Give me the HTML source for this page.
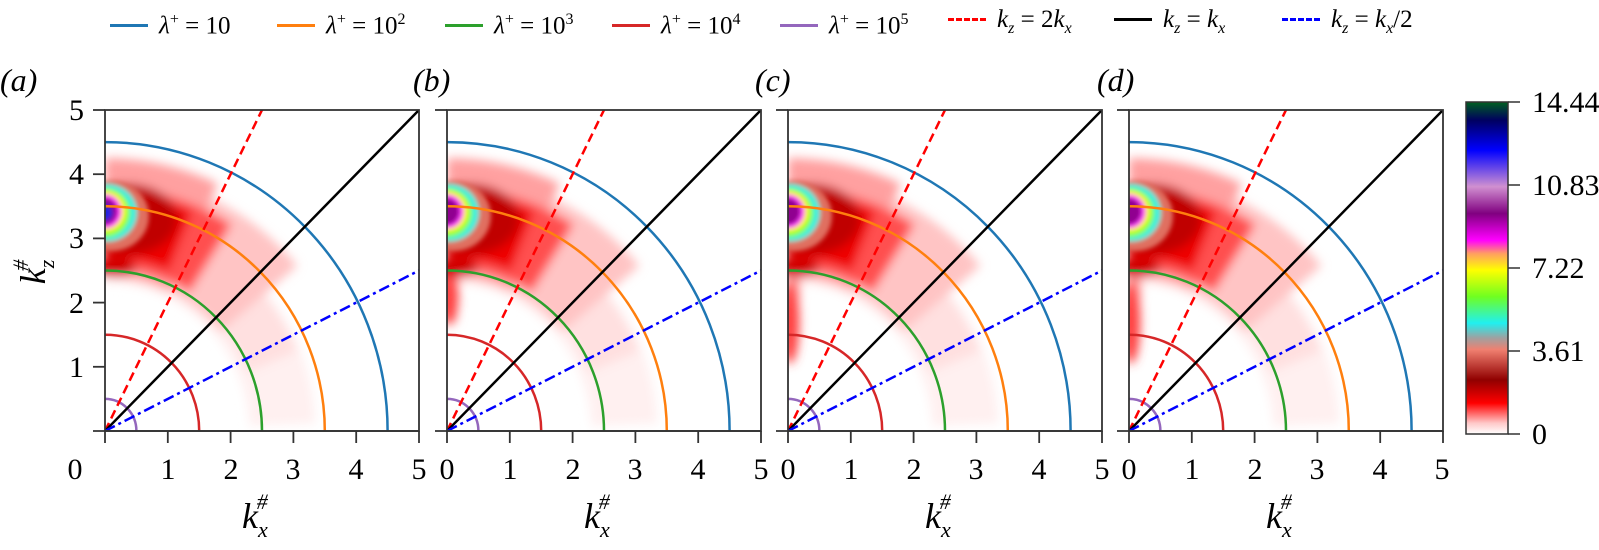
<!DOCTYPE html>
<html><head><meta charset="utf-8"><style>
html,body{margin:0;padding:0;background:#fff;}
body{width:1599px;height:550px;position:relative;overflow:hidden;font-family:"Liberation Serif","DejaVu Serif",serif;}
svg text{font-family:"Liberation Serif","DejaVu Serif",serif;}
.lg{position:absolute;top:5px;font-size:25px;white-space:nowrap;line-height:30px;}
.lg span.l{display:inline-block;width:38px;height:0;border-top:3px solid;vertical-align:middle;margin-right:11px;position:relative;top:-2px;}
sup{font-size:16px;}
sub{font-size:16px;}
</style></head><body>
<div class="lg" style="left:110px"><span class="l" style="border-color:#1f77b4"></span><i>λ</i><sup>+</sup> = 10</div>
<div class="lg" style="left:277px"><span class="l" style="border-color:#ff7f0e"></span><i>λ</i><sup>+</sup> = 10<sup>2</sup></div>
<div class="lg" style="left:445px"><span class="l" style="border-color:#2ca02c"></span><i>λ</i><sup>+</sup> = 10<sup>3</sup></div>
<div class="lg" style="left:612px"><span class="l" style="border-color:#d62728"></span><i>λ</i><sup>+</sup> = 10<sup>4</sup></div>
<div class="lg" style="left:780px"><span class="l" style="border-color:#9467bd"></span><i>λ</i><sup>+</sup> = 10<sup>5</sup></div>
<div class="lg" style="left:948px"><span class="l" style="border-top:3px dashed #ff0000"></span><i>k<sub>z</sub></i> = 2<i>k<sub>x</sub></i></div>
<div class="lg" style="left:1114px"><span class="l" style="border-color:#000"></span><i>k<sub>z</sub></i> = <i>k<sub>x</sub></i></div>
<div class="lg" style="left:1282px"><span class="l" style="border-top:3px dashed #0000ff"></span><i>k<sub>z</sub></i> = <i>k<sub>x</sub></i>/2</div>

<svg id="s" width="1599" height="550" style="position:absolute;left:0;top:0">
<defs>
<linearGradient id="cb" x1="0" y1="1" x2="0" y2="0">
<stop offset="0" stop-color="#ffffff"/><stop offset="0.033" stop-color="#ffc8c8"/>
<stop offset="0.093" stop-color="#ff0000"/><stop offset="0.163" stop-color="#900000"/>
<stop offset="0.254" stop-color="#f08070"/><stop offset="0.289" stop-color="#a0a0a0"/>
<stop offset="0.334" stop-color="#20f0f0"/><stop offset="0.414" stop-color="#70ff20"/>
<stop offset="0.494" stop-color="#ffff00"/><stop offset="0.543" stop-color="#ffa060"/>
<stop offset="0.584" stop-color="#ff00ff"/><stop offset="0.664" stop-color="#800080"/>
<stop offset="0.745" stop-color="#d090d0"/><stop offset="0.855" stop-color="#0000ff"/>
<stop offset="0.945" stop-color="#000060"/><stop offset="1" stop-color="#006020"/>
</linearGradient>
<filter id="bl" x="-20%" y="-20%" width="140%" height="140%"><feGaussianBlur stdDeviation="5"/></filter>
<filter id="bl2" x="-20%" y="-20%" width="140%" height="140%"><feGaussianBlur stdDeviation="2.5"/></filter>
</defs>
<text x="0" y="91" font-size="32" font-style="italic">(a)</text>
<text x="413" y="91" font-size="32" font-style="italic">(b)</text>
<text x="755" y="91" font-size="32" font-style="italic">(c)</text>
<text x="1097" y="91" font-size="32" font-style="italic">(d)</text>
<text transform="translate(45,272) rotate(-90)" font-size="36" font-style="italic" text-anchor="middle">k<tspan font-size="22" dy="9">z</tspan><tspan font-size="22" dy="-26" dx="-11">#</tspan></text>
<g font-size="30" text-anchor="end">
<text x="84" y="120">5</text><text x="84" y="184">4</text><text x="84" y="248">3</text><text x="84" y="313">2</text><text x="84" y="377">1</text>
</g>
<rect x="1466" y="102" width="42" height="332" fill="url(#cb)" stroke="#333" stroke-width="1.5"/>
<g stroke="#333" stroke-width="1.5"><line x1="1508" y1="102" x2="1520" y2="102"/><line x1="1508" y1="185" x2="1520" y2="185"/><line x1="1508" y1="268" x2="1520" y2="268"/><line x1="1508" y1="351" x2="1520" y2="351"/><line x1="1508" y1="434" x2="1520" y2="434"/></g>
<g font-size="30"><text x="1532" y="112">14.44</text><text x="1532" y="195">10.83</text><text x="1532" y="278">7.22</text><text x="1532" y="361">3.61</text><text x="1532" y="444">0</text></g>
</svg>
<script>
var X0=[105,447,788,1129],Y0=431,SX=62.8,SY=64.2,W=314,H=321;
var svg=document.getElementById('s');var NS='http://www.w3.org/2000/svg';
function el(t,a,p){var e=document.createElementNS(NS,t);for(var k in a)e.setAttribute(k,a[k]);(p||svg).appendChild(e);return e;}
function sector(x0,r1,r2,a1,a2){var d='',n=40,i,a;for(i=0;i<=n;i++){a=(a1+(a2-a1)*i/n)*Math.PI/180;d+=(i?'L':'M')+(x0+r2*Math.cos(a)*SX)+','+(Y0-r2*Math.sin(a)*SY);}
for(i=n;i>=0;i--){a=(a1+(a2-a1)*i/n)*Math.PI/180;d+='L'+(x0+r1*Math.cos(a)*SX)+','+(Y0-r1*Math.sin(a)*SY);}return d+'Z';}
function ell(x0,cx,cy,rx,ry,f,g){return el('ellipse',{cx:x0+cx*SX,cy:Y0-cy*SY,rx:rx*SX,ry:ry*SY,fill:f},g);}
X0.forEach(function(x0,p){
 var cp=el('clipPath',{id:'c'+p});el('rect',{x:x0,y:110,width:W,height:H},cp);
 var g=el('g',{'clip-path':'url(#c'+p+')'});
 var h=el('g',{filter:'url(#bl)'},g);
 el('path',{d:sector(x0,2.3,3.35,2,90),fill:'#fff0f0'},h);
 el('path',{d:sector(x0,2.45,3.3,22,90),fill:'#ffe0e0'},h);
 el('path',{d:sector(x0,2.4,4.0,40,90),fill:'#ffc4c4'},h);
 el('path',{d:sector(x0,2.4,4.25,65,90),fill:'#ffa0a0'},h);
 el('path',{d:sector(x0,2.55,3.8,58,90),fill:'#ff5050'},h);
 if(p>0){el('path',{d:sector(x0,p==1?1.7:1.1,2.6,85,90),fill:'#ffa0a0'},h);
  ell(x0,0.03,p==1?2.1:1.7,0.15,p==1?0.45:0.65,'#ff4040',h);}
 el('path',{d:sector(x0,2.7,3.7,68,90),fill:'#ee0000'},h);
 ell(x0,0.15,2.55,0.35,0.15,'#d00000',h);
 ell(x0,0.35,3.3,0.8,0.55,'#c00000',h);
 var c=el('g',{filter:'url(#bl2)'},g);
 ell(x0,0.1,3.35,0.6,0.55,'#e07060',c);
 ell(x0,0.03,3.4,0.48,0.45,'#30f0e0',c);
 ell(x0,0.0,3.4,0.4,0.38,'#90ff30',c);
 ell(x0,0.0,3.42,0.33,0.32,'#ffff00',c);
 ell(x0,0.0,3.42,0.27,0.27,'#ff30ff',c);
 ell(x0,0.0,3.42,0.2,0.21,'#900090',c);
 if(p==0)ell(x0,0.0,3.4,0.12,0.13,'#2020e0',c);
 [[0.5,'#9467bd'],[1.5,'#d62728'],[2.5,'#2ca02c'],[3.5,'#ff7f0e'],[4.5,'#1f77b4']].forEach(function(a){
  el('path',{d:'M'+(x0+a[0]*SX)+','+Y0+' A'+(a[0]*SX)+','+(a[0]*SY)+' 0 0 0 '+x0+','+(Y0-a[0]*SY),fill:'none',stroke:a[1],'stroke-width':2.5},g);});
 el('line',{x1:x0,y1:Y0,x2:x0+2.5*SX,y2:Y0-5*SY,stroke:'#ff0000','stroke-width':2.5,'stroke-dasharray':'9,5'},g);
 el('line',{x1:x0,y1:Y0,x2:x0+5*SX,y2:Y0-5*SY,stroke:'#000','stroke-width':2.5},g);
 el('line',{x1:x0,y1:Y0,x2:x0+5*SX,y2:Y0-2.5*SY,stroke:'#0000ff','stroke-width':2.5,'stroke-dasharray':'11,4,3,4'},g);
 el('rect',{x:x0,y:110,width:W,height:H,fill:'none',stroke:'#333','stroke-width':1.8});
 el('line',{x1:x0-12,y1:110,x2:x0,y2:110,stroke:'#333','stroke-width':1.8});
 el('line',{x1:x0-12,y1:Y0,x2:x0+W,y2:Y0,stroke:'#333','stroke-width':1.8});
 for(var i=0;i<=5;i++){el('line',{x1:x0+i*SX,y1:Y0,x2:x0+i*SX,y2:Y0+12,stroke:'#333','stroke-width':1.8});}
 if(p==0){for(var j=1;j<=4;j++)el('line',{x1:x0-12,y1:Y0-j*SY,x2:x0,y2:Y0-j*SY,stroke:'#333','stroke-width':1.8});}
});
</script>
<svg width="1599" height="550" style="position:absolute;left:0;top:0">
<g font-size="30" text-anchor="middle">
<text x="75" y="479">0</text><text x="168" y="479">1</text><text x="231" y="479">2</text><text x="293" y="479">3</text><text x="356" y="479">4</text><text x="419" y="479">5</text>
<text x="447" y="479">0</text><text x="510" y="479">1</text><text x="573" y="479">2</text><text x="635" y="479">3</text><text x="698" y="479">4</text><text x="761" y="479">5</text>
<text x="788" y="479">0</text><text x="851" y="479">1</text><text x="914" y="479">2</text><text x="976" y="479">3</text><text x="1039" y="479">4</text><text x="1102" y="479">5</text>
<text x="1129" y="479">0</text><text x="1192" y="479">1</text><text x="1255" y="479">2</text><text x="1317" y="479">3</text><text x="1380" y="479">4</text><text x="1442" y="479">5</text>
</g>
<g font-size="36" font-style="italic">
<text x="242" y="528">k<tspan font-size="22" dy="9">x</tspan><tspan font-size="22" dy="-28" dx="-11">#</tspan></text>
<text x="584" y="528">k<tspan font-size="22" dy="9">x</tspan><tspan font-size="22" dy="-28" dx="-11">#</tspan></text>
<text x="925" y="528">k<tspan font-size="22" dy="9">x</tspan><tspan font-size="22" dy="-28" dx="-11">#</tspan></text>
<text x="1266" y="528">k<tspan font-size="22" dy="9">x</tspan><tspan font-size="22" dy="-28" dx="-11">#</tspan></text>
</g>
</svg>
</body></html>
